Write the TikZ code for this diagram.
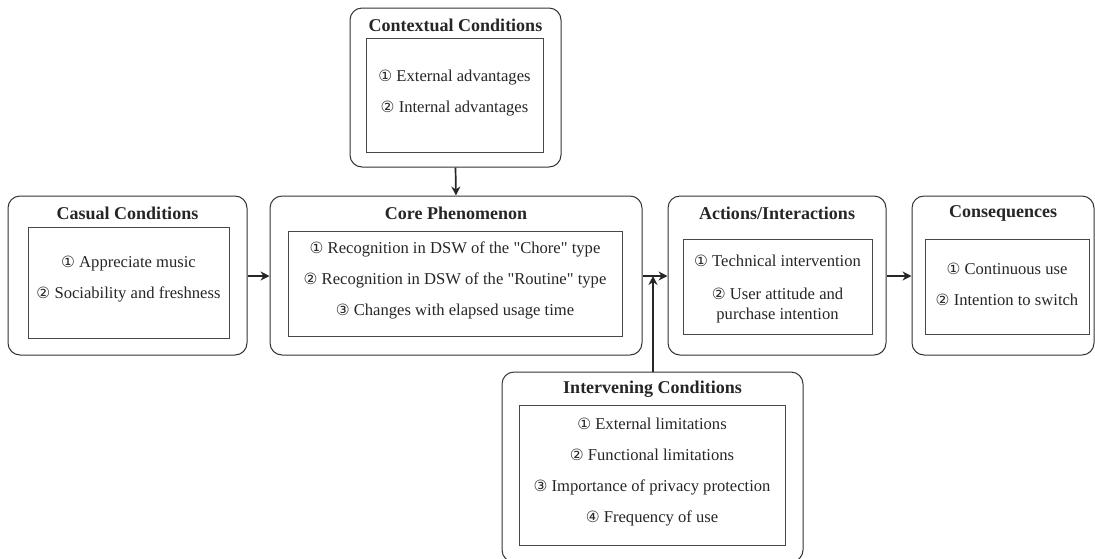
\documentclass[tikz,border=0pt]{standalone}
\usepackage{fontspec}
\setmainfont{Liberation Serif}
\newfontfamily\circfont{DejaVu Sans}
\usetikzlibrary{arrows.meta}
\newcommand{\cn}[1]{{\circfont\fontsize{15.5}{15.5}\selectfont #1}}
\newcommand{\qq}{\textquotedbl}
\begin{document}
\begin{tikzpicture}[x=1pt,y=-1pt,
  outerbox/.style={draw=black!80,line width=1pt,rounded corners=12pt,minimum width=#1,inner sep=0pt},
  innerbox/.style={draw=black!72,line width=0.9pt,inner sep=0pt},
  titletext/.style={font=\fontsize{18}{20}\selectfont\bfseries,text=black!85},
  bodytext/.style={font=\fontsize{16.6}{31}\selectfont,align=center,text=black!85,inner sep=0pt},
  conn/.style={line width=1.7pt,draw=black!85,-{Stealth[length=9pt,width=9pt]}},
  plain/.style={line width=1.7pt,draw=black!85}]
\useasboundingbox (0,0) rectangle (1095,558);
% Contextual
\node[outerbox=211pt,minimum height=159pt] (ctxo) at (455.5,87.5) {};
\node[titletext] (ctxt) at (455.5,25) {Contextual Conditions};
\node[innerbox,minimum width=177pt,minimum height=114pt] (ctxi) at (454.5,95) {};
\node[bodytext] (ctxb) at (454.5,93) {\cn{①} External advantages\\\cn{②} Internal advantages};
% Casual
\node[outerbox=239pt,minimum height=159pt] (caso) at (127.5,275.5) {};
\node[titletext] (cast) at (127.5,213) {Casual Conditions};
\node[innerbox,minimum width=201pt,minimum height=111pt] (casi) at (128.5,282.5) {};
\node[bodytext] (casb) at (128.5,279.5) {\cn{①} Appreciate music\\\cn{②} Sociability and freshness};
% Core
\node[outerbox=372pt,minimum height=159pt] (coro) at (456,275.5) {};
\node[titletext] (cort) at (456,213) {Core Phenomenon};
\node[innerbox,minimum width=334pt,minimum height=105pt] (cori) at (455,283.5) {};
\node[bodytext] (corb) at (455,280.5) {\cn{①} Recognition in DSW of the \qq Chore\qq{} type\\\cn{②} Recognition in DSW of the \qq Routine\qq{} type\\\cn{③} Changes with elapsed usage time};
% Actions
\node[outerbox=218pt,minimum height=159pt] (acto) at (777,275.5) {};
\node[titletext] (actt) at (777,213) {Actions/Interactions};
\node[innerbox,minimum width=189pt,minimum height=95pt] (acti) at (777.5,286.5) {};
\node[bodytext] (actb) at (777.5,288.5) {\cn{①} Technical intervention\\[2pt]\cn{②} User attitude and\\[-11pt]purchase intention};
% Consequences
\node[outerbox=182pt,minimum height=159pt] (cono) at (1003,275.5) {};
\node[titletext] (cont) at (1003,213) {Consequences};
\node[innerbox,minimum width=164pt,minimum height=95pt] (coni) at (1007,286.5) {};
\node[bodytext] (conb) at (1007,284.5) {\cn{①} Continuous use\\\cn{②} Intention to switch};
% Intervening
\node[outerbox=301pt,minimum height=190pt] (into) at (652.5,467) {};
\node[titletext] (intt) at (652.5,389) {Intervening Conditions};
\node[innerbox,minimum width=266pt,minimum height=140pt] (inti) at (652,475) {};
\node[bodytext] (intb) at (652,472.5) {\cn{①} External limitations\\\cn{②} Functional limitations\\\cn{③} Importance of privacy protection\\\cn{④} Frequency of use};
% connectors
\coordinate (junc) at (653,276);
\draw[conn] (ctxo.south) -- (coro.north);
\draw[conn] (caso.east |- junc) -- (coro.west |- junc);
\draw[plain] (coro.east |- junc) -- (junc);
\draw[conn] (junc) -- (acto.west |- junc);
\draw[conn] (into.north -| junc) -- (junc);
\draw[conn] (acto.east |- junc) -- (cono.west |- junc);
\end{tikzpicture}
\end{document}
